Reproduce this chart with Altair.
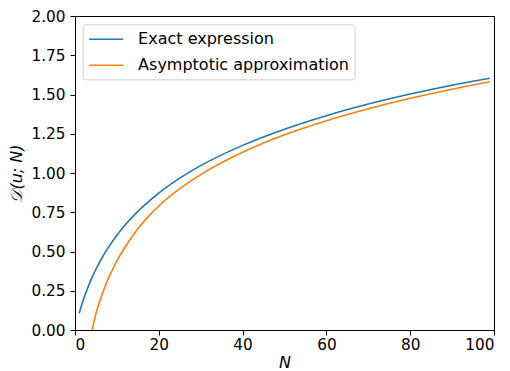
import altair as alt
import pandas as pd

# Values
exact_N = [1, 2, 3, 4, 5, 6, 8, 10, 12, 15, 17, 20, 25, 30, 40, 50, 60, 70, 80, 90, 99]
exact_D = [0.106, 0.192, 0.266, 0.33, 0.387, 0.439, 0.528, 0.604, 0.67, 0.756, 0.805,
           0.872, 0.967, 1.047, 1.176, 1.279, 1.365, 1.439, 1.503, 1.559, 1.603]

asym_N = [4.1, 4.5, 5, 6, 7, 8, 10, 12, 15, 17, 20, 25, 30, 40, 50, 60, 70, 80, 90, 99]
asym_D = [0.0, 0.05, 0.103, 0.19, 0.265, 0.33, 0.44, 0.53, 0.645, 0.708, 0.79, 0.90,
          0.99, 1.132, 1.243, 1.333, 1.409, 1.476, 1.534, 1.581]

series_names = ["Exact expression", "Asymptotic approximation"]
series_colors = ["#1f77b4", "#ff7f0e"]

x_ticks = [0, 20, 40, 60, 80, 100]
y_ticks = [0, 0.25, 0.5, 0.75, 1.0, 1.25, 1.5, 1.75, 2.0]

df = pd.concat([
    pd.DataFrame({"N": exact_N, "D": exact_D, "series": series_names[0]}),
    pd.DataFrame({"N": asym_N, "D": asym_D, "series": series_names[1]}),
])

FONT = "DejaVu Sans"

chart = alt.Chart(df).mark_line(strokeWidth=1.6, interpolate="monotone").encode(
    x=alt.X("N:Q", scale=alt.Scale(domain=[0, 100], nice=False),
            axis=alt.Axis(values=x_ticks, title="N", titleFontStyle="italic",
                          labelPadding=2, titlePadding=2)),
    y=alt.Y("D:Q", scale=alt.Scale(domain=[0, 2], nice=False),
            axis=alt.Axis(values=y_ticks, format=".2f", title="𝒟(u; N)",
                          titleFontStyle="italic", labelPadding=5, titlePadding=6)),
    color=alt.Color("series:N", scale=alt.Scale(domain=series_names, range=series_colors),
                    legend=alt.Legend(title=None, orient="none", legendX=7.6, legendY=8.3,
                                      symbolType="M-1,0H3", symbolSize=289,
                                      symbolStrokeWidth=1.6, labelFontSize=16,
                                      labelFont=FONT, labelColor="black",
                                      padding=5.5, rowPadding=8, labelOffset=31,
                                      strokeColor="#d0d0d0", fillColor="white",
                                      cornerRadius=3, labelLimit=400)),
).properties(
    width=419, height=314,
    autosize=alt.AutoSizeParams(type="none"),
    padding={"left": 67, "top": 8, "right": 7, "bottom": 45},
).configure_view(
    stroke="black", strokeWidth=1
).configure_axis(
    grid=False, domainColor="black", tickColor="black", tickSize=5,
    labelFont=FONT, labelFontSize=15.3, labelColor="black",
    titleFont=FONT, titleFontSize=16, titleFontWeight="normal", titleColor="black",
)

chart.save("out.html", embed_options={"renderer": "svg", "actions": False})
